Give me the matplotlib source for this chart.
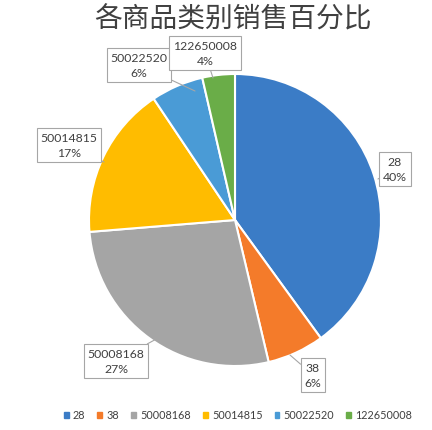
import numpy as np
import matplotlib
matplotlib.use('Agg')
import matplotlib.pyplot as plt

plt.rcParams['font.family'] = ['Lato', 'Noto Sans CJK SC', 'DejaVu Sans']

# Data (share of sales, %)
categories = ['28', '38', '50008168', '50014815', '50022520', '122650008']
shares = [40.0, 6.3, 27.4, 16.9, 5.8, 3.6]
pct_labels = ['40%', '6%', '27%', '17%', '6%', '4%']
colors = ['#3B7CC6', '#F47B2A', '#A5A5A5', '#FFBC00', '#4A9BD6', '#6AAD48']
title = '各商品类别销售百分比'

W, H = 432, 431
fig = plt.figure(figsize=(W / 100, H / 100), dpi=100)
ax = fig.add_axes([0, 0, 1, 1])

cx, cy, r = 235, H - 221, 146
wedges, _ = ax.pie(shares, colors=colors, startangle=90, counterclock=False,
                   center=(cx, cy), radius=r, frame=True,
                   wedgeprops=dict(edgecolor='white', linewidth=1.5))
ax.set_xlim(0, W)
ax.set_ylim(0, H)
ax.set_aspect('equal')
ax.axis('off')

# Callout label positions (pixel centres) and pointer targets
box_pos = [(395, 170), (313, 376), (116, 362), (69, 146), (139, 66), (205, 54)]
tip_pos = [(378, 180), (290, 356), (160, 338), (104, 163), (195, 92), (213, 79)]

for cat, pct, (bx, by), (tx, ty) in zip(categories, pct_labels, box_pos, tip_pos):
    ax.annotate(cat + '\n' + pct, xy=(tx, H - ty), xytext=(bx, H - by),
                ha='center', va='center', fontsize=8.8, color='#404040',
                linespacing=1.45,
                bbox=dict(boxstyle='square,pad=0.3', fc='white', ec='#A6A6A6', lw=0.8),
                arrowprops=dict(arrowstyle='-', color='#A6A6A6', lw=0.8,
                                shrinkA=0, shrinkB=0))

fig.text(0.54, 1 - 19 / H, title, ha='center', va='center', fontsize=20,
         color='#404040', family=['Noto Sans CJK SC', 'DejaVu Sans'])

handles = [plt.Rectangle((0, 0), 1, 1, color=c) for c in colors]
fig.legend(handles, categories, loc='center', bbox_to_anchor=(0.551, 1 - 416 / H),
           ncol=6, frameon=False, fontsize=7.8, handlelength=0.45, handleheight=0.45,
           handletextpad=0.4, columnspacing=1.1, labelcolor='#404040')

fig.savefig('out.png', dpi=100)
